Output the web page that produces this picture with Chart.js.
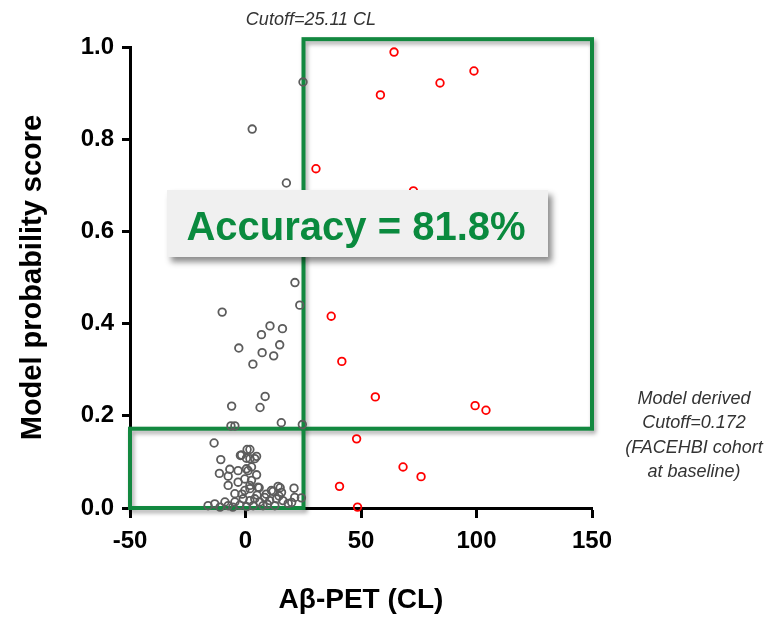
<!DOCTYPE html>
<html lang="en">
<head>
  <meta charset="UTF-8" />
  <title>Model probability score vs Aβ-PET</title>
  <script src="https://cdn.jsdelivr.net/npm/chart.js"></script>
  <style>
    html, body {
      margin: 0;
      padding: 0;
      background: #ffffff;
    }
    #wrap {
      position: relative;
      width: 784px;
      height: 619px;
    }
  </style>
</head>
<body>
  <div id="wrap">
    <canvas id="scatterChart" width="784" height="619"></canvas>
  </div>

  <script>
    // Aβ-PET centiloids (x) and model probability score (y)
    const negX = [2.9, 24.9, 17.7, 21.4, 23.5, -10.1, 10.6, 16.0, 6.9, 14.8, -2.9, 7.2, 12.2, 3.2,
      8.5, -6.0, 6.3, 15.5, -6.3, -4.6, 24.6, -13.6,
      0.7, 1.9, -1.7, -2.2, 4.8, 4.0, 0.4, 1.9, -10.7, 2.6, 0.4, -6.8, 1.1, -3.2, -11.3, 4.8,
      -7.5, -0.3, 2.6, -3.2, -7.5, 1.9, 5.4, 5.9, 14.1, 15.0, 21.0, 1.9, 11.2, 11.9, -0.3, 15.6,
      -4.6, 21.3, 24.2, 8.3, 4.0, -1.0, 13.4, 10.5, 16.2, 1.9, -4.6, -8.9, 6.2, -13.3, -16.2,
      -7.5, 3.3, 7.6, 12.7, 18.5, 9.5, -2.5, 0.5, -11.0, -5.5, 5.0, 14.5, 20.0, -1.5, 9.0];
    const negY = [0.822, 0.924, 0.705, 0.489, 0.440, 0.425, 0.395, 0.389, 0.376, 0.354, 0.347, 0.337, 0.330, 0.312,
      0.242, 0.221, 0.218, 0.185, 0.178, 0.178, 0.181, 0.141,
      0.127, 0.127, 0.115, 0.114, 0.112, 0.107, 0.108, 0.107, 0.105, 0.089, 0.085, 0.084, 0.081, 0.081, 0.075, 0.072,
      0.069, 0.063, 0.060, 0.056, 0.049, 0.049, 0.045, 0.044, 0.047, 0.044, 0.043, 0.042, 0.038, 0.036, 0.038, 0.034,
      0.031, 0.023, 0.022, 0.023, 0.020, 0.020, 0.020, 0.016, 0.016, 0.016, 0.013, 0.013, 0.013, 0.009, 0.005,
      0.005, 0.005, 0.005, 0.005, 0.010, 0.008, 0.006, 0.003, 0.002, 0.002, 0.028, 0.026, 0.012, 0.030, 0.030];

    const posX = [64.3, 58.4, 84.2, 98.9, 30.5, 72.7, 37.1, 41.7, 56.2, 99.4, 104.1, 48.1, 68.2, 76.0, 40.7, 48.5];
    const posY = [0.989, 0.896, 0.922, 0.948, 0.736, 0.688, 0.416, 0.318, 0.241, 0.222, 0.212, 0.150, 0.089, 0.068, 0.047, 0.002];

    const xTicks = [-50, 0, 50, 100, 150];
    const yTicks = [0.0, 0.2, 0.4, 0.6, 0.8, 1.0];

    const clCutoff = 25.11;
    const scoreCutoff = 0.172;
    const boxTop = 1.017;

    const green = '#12883f';
    const font = 'Arial, "Liberation Sans", sans-serif';

    const toPoints = (xs, ys) => xs.map((x, i) => ({ x: x, y: ys[i] }));

    // cutoff rectangles, drawn under the points
    const cutoffBoxes = {
      id: 'cutoffBoxes',
      beforeDatasetsDraw(chart) {
        const { ctx, scales: { x, y } } = chart;
        ctx.save();
        ctx.strokeStyle = green;
        ctx.lineWidth = 4;
        ctx.lineJoin = 'miter';
        ctx.shadowColor = 'rgba(0,0,0,0.35)';
        ctx.shadowBlur = 4;
        ctx.shadowOffsetX = 2;
        ctx.shadowOffsetY = 3;
        // upper right: positives above the model cutoff
        const x0 = x.getPixelForValue(clCutoff);
        const x1 = x.getPixelForValue(150);
        const y0 = y.getPixelForValue(boxTop);
        const y1 = y.getPixelForValue(scoreCutoff);
        ctx.strokeRect(x0, y0, x1 - x0, y1 - y0);
        // lower left: negatives below both cutoffs
        const x2 = x.getPixelForValue(-50);
        const y2 = y.getPixelForValue(0);
        ctx.strokeRect(x2, y1, x0 - x2, y2 - y1);
        ctx.restore();
      },
      afterDatasetsDraw(chart) {
        const { ctx } = chart;
        ctx.save();
        // accuracy label
        ctx.shadowColor = 'rgba(0,0,0,0.45)';
        ctx.shadowBlur = 6;
        ctx.shadowOffsetX = 4;
        ctx.shadowOffsetY = 5;
        ctx.fillStyle = '#f0f0f0';
        ctx.fillRect(167, 190, 381, 67);
        ctx.shadowColor = 'transparent';
        ctx.fillStyle = '#0a8a3e';
        ctx.font = 'bold 40px ' + font;
        ctx.textAlign = 'center';
        ctx.textBaseline = 'alphabetic';
        ctx.fillText('Accuracy = 81.8%', 356, 240);

        // cutoff notes
        ctx.fillStyle = '#333333';
        ctx.font = 'italic 18px ' + font;
        ctx.fillText('Cutoff=25.11 CL', 311, 25);
        const notes = ['Model derived', 'Cutoff=0.172', '(FACEHBI cohort', 'at baseline)'];
        notes.forEach((t, i) => ctx.fillText(t, 694, 404 + i * 24.3));
        ctx.restore();
      }
    };

    const ctx = document.getElementById('scatterChart').getContext('2d');

    new Chart(ctx, {
      type: 'scatter',
      data: {
        datasets: [
          {
            label: 'Aβ-',
            data: toPoints(negX, negY),
            pointRadius: 3.8,
            pointBorderWidth: 1.8,
            borderColor: '#5c5c5c',
            backgroundColor: 'rgba(0,0,0,0)',
            clip: false
          },
          {
            label: 'Aβ+',
            data: toPoints(posX, posY),
            pointRadius: 3.8,
            pointBorderWidth: 1.8,
            borderColor: '#ff0000',
            backgroundColor: 'rgba(0,0,0,0)',
            clip: false
          }
        ]
      },
      options: {
        responsive: false,
        animation: false,
        layout: {
          padding: { top: 47, right: 192, bottom: 0, left: 0 }
        },
        plugins: {
          legend: { display: false },
          tooltip: { enabled: false }
        },
        scales: {
          x: {
            type: 'linear',
            min: xTicks[0],
            max: xTicks[xTicks.length - 1],
            afterBuildTicks: (axis) => { axis.ticks = xTicks.map(v => ({ value: v })); },
            afterFit: (axis) => { axis.height = 111; },
            grid: {
              drawOnChartArea: false,
              drawTicks: true,
              tickLength: 10,
              tickWidth: 3,
              tickColor: '#000'
            },
            border: { display: true, color: '#000', width: 3 },
            ticks: {
              color: '#000',
              padding: 9,
              font: { family: font, size: 24, weight: 'bold' }
            },
            title: {
              display: true,
              text: 'Aβ-PET (CL)',
              color: '#000',
              padding: { top: 0, bottom: 2 },
              font: { family: font, size: 28, weight: 'bold' }
            }
          },
          y: {
            type: 'linear',
            min: yTicks[0],
            max: yTicks[yTicks.length - 1],
            afterBuildTicks: (axis) => { axis.ticks = yTicks.map(v => ({ value: v })); },
            afterFit: (axis) => { axis.width = 130; },
            grid: {
              drawOnChartArea: false,
              drawTicks: true,
              tickLength: 8,
              tickWidth: 3,
              tickColor: '#000'
            },
            border: { display: true, color: '#000', width: 3 },
            ticks: {
              color: '#000',
              padding: 8,
              font: { family: font, size: 24, weight: 'bold' },
              callback: (v) => Number(v).toFixed(1)
            },
            title: {
              display: true,
              text: 'Model probability score',
              color: '#000',
              padding: { top: 16, bottom: 0 },
              font: { family: font, size: 29, weight: 'bold' }
            }
          }
        }
      },
      plugins: [cutoffBoxes]
    });
  </script>
</body>
</html>
